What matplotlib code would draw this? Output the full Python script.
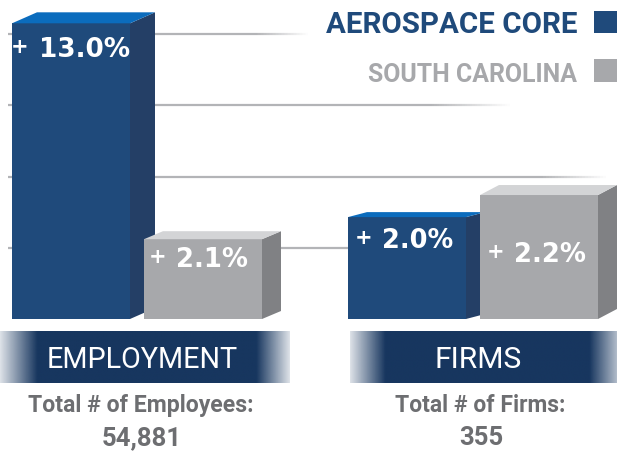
"""
Aerospace core vs. South Carolina growth — pseudo-3D bar chart.
Output: out.png (617 x 453 px)
"""

import numpy as np
import matplotlib
matplotlib.use("Agg")
import matplotlib.pyplot as plt
from matplotlib.patches import Polygon, Rectangle
from matplotlib.collections import LineCollection
from matplotlib.colors import to_rgb

# ── Data ─────────────────────────────────────────────────────────────────────
groups = ["EMPLOYMENT", "FIRMS"]
series = ["AEROSPACE CORE", "SOUTH CAROLINA"]
growth_labels = [["13.0%", "2.1%"], ["2.0%", "2.2%"]]
# drawn bar heights (in gridline units)
bar_heights = [[4.15, 1.12], [1.43, 1.74]]
grid_levels = [1, 2, 3, 4]
total_labels = ["Total # of Employees:", "Total # of Firms:"]
total_values = ["54,881", "355"]

# ── Styles ───────────────────────────────────────────────────────────────────
W, H = 617, 453
NARROW = ["Roboto", "DejaVu Sans"]
FRONT = ["#1f4a7b", "#a7a8ab"]
SIDE = ["#243f66", "#808184"]
TOP = ["#0b6cbd", "#d3d4d6"]
DEPTH = [[(25, 11), (19, 8)], [(19, 5), (19, 10)]]   # px (dx, dy) 3D offset
NAVY = "#17365f"
TEXT_GRAY = "#6d6e71"
GRID = "#b3b4b7"

PX_X, PX_Y = 336.0, 71.25            # px per group unit / per grid unit
BASE_X, BASE_Y = 137.0, 319.0        # px position of group 0 / baseline
PITCH, WIDTH = 132 / PX_X, 118 / PX_X

fig = plt.figure(figsize=(W / 100, H / 100), dpi=100)
fig.patch.set_facecolor("white")
renderer = fig.canvas.get_renderer()

# bar axes: x in group units, y in gridline units
ax = fig.add_axes([0, 0, 1, 1])
ax.set_xlim(-BASE_X / PX_X, (W - BASE_X) / PX_X)
ax.set_ylim(-(H - BASE_Y) / PX_Y, BASE_Y / PX_Y)
ax.axis("off")

# overlay axes in pixel coords for bands / legend / text
ov = fig.add_axes([0, 0, 1, 1], zorder=5)
ov.set_xlim(0, W)
ov.set_ylim(H, 0)
ov.axis("off")
ov.patch.set_alpha(0)


def px2x(px):
    return (px - BASE_X) / PX_X


def fit(t, width_px):
    """Scale a text's font size so its drawn width matches width_px."""
    for _ in range(3):
        w = t.get_window_extent(renderer).width
        t.set_fontsize(t.get_fontsize() * width_px / w)
    return t


# ── Fading gridlines ─────────────────────────────────────────────────────────
grid_span = {1: (8, 617, 617), 2: (8, 540, 606), 3: (8, 430, 510), 4: (8, 255, 308)}
for lvl in grid_levels:
    x0, fade0, x1 = grid_span[lvl]
    n = 200
    xs = np.linspace(px2x(x0), px2x(x1), n)
    segs = [[(xs[i], lvl), (xs[i + 1], lvl)] for i in range(n - 1)]
    rgb = to_rgb(GRID)
    cols = []
    for i in range(n - 1):
        p = x0 + (x1 - x0) * i / (n - 1)
        a = 1.0 if p < fade0 else max(0.0, 1 - (p - fade0) / max(1, x1 - fade0))
        cols.append((*rgb, a))
    ax.add_collection(LineCollection(segs, colors=cols, linewidths=1.6, zorder=1))

# ── Bars ─────────────────────────────────────────────────────────────────────
label_drop = [[34, 28], [31, 67]]    # px from bar top to number baseline
label_width = [[91, 72], [71, 72]]   # px drawn width of the number
plus_dx = [[8, 14], [16, 16]]        # px from bar left to plus centre
num_dx = [[27, 32], [34, 34]]        # px from bar left to number start
for g in range(len(groups)):
    for j in range(len(series)):
        h = bar_heights[g][j]
        x0 = g + (j - 0.5) * PITCH - WIDTH / 2
        x1 = x0 + WIDTH
        dx, dy = DEPTH[g][j][0] / PX_X, DEPTH[g][j][1] / PX_Y
        z = 3 + 2 * j
        ax.add_patch(Rectangle((x0, 0), WIDTH, h, facecolor=FRONT[j],
                               edgecolor="none", zorder=z))
        ax.add_patch(Polygon([(x1, 0), (x1 + dx, dy), (x1 + dx, h + dy), (x1, h)],
                             facecolor=SIDE[j], edgecolor="none", zorder=z))
        ax.add_patch(Polygon([(x0, h), (x0 + dx, h + dy), (x1 + dx, h + dy), (x1, h)],
                             facecolor=TOP[j], edgecolor="none", zorder=z))
        drop = label_drop[g][j]
        t = ax.annotate(growth_labels[g][j], xy=(x0, h), xytext=(num_dx[g][j], -drop),
                        textcoords="offset pixels", ha="left", va="baseline",
                        color="white", fontsize=18, fontweight="bold", zorder=z + 1)
        fit(t, label_width[g][j])
        ax.annotate("+", xy=(x0, h), xytext=(plus_dx[g][j], -drop + 10),
                    textcoords="offset pixels", ha="center", va="center",
                    color="white", fontsize=15, fontweight="bold", zorder=z + 1)

# ── Legend ───────────────────────────────────────────────────────────────────
t = ov.text(577, 33, series[0], ha="right", va="baseline", color=FRONT[0],
            fontsize=24, fontweight="bold", family=NARROW)
fit(t, 251)
t = ov.text(577, 82, series[1], ha="right", va="baseline", color=FRONT[1],
            fontsize=21, fontweight="bold", family=NARROW)
fit(t, 209)
ov.add_patch(Rectangle((594, 11), 24, 22, facecolor=FRONT[0], edgecolor="none"))
ov.add_patch(Rectangle((594, 59), 24, 23, facecolor=FRONT[1], edgecolor="none"))

# ── Category bands with faded ends ───────────────────────────────────────────
band_spans = [(0, 37, 257, 290), (350, 385, 590, 625)]
name_width = [191, 87]
navy = np.array(to_rgb(NAVY))
for (b0, s0, s1, b1), name, cx, nw in zip(band_spans, groups, [142, 478], name_width):
    xs = np.linspace(b0, b1, 300)
    alpha = np.clip(np.minimum((xs - b0) / (s0 - b0), (b1 - xs) / (b1 - s1)), 0, 1)
    alpha = 0.15 + 0.85 * alpha
    img = np.zeros((1, len(xs), 4))
    img[0, :, :3] = navy
    img[0, :, 3] = alpha
    ov.imshow(img, extent=(b0, b1, 383, 331), aspect="auto", interpolation="bilinear",
              zorder=1)
    t = ov.text(cx, 368, name, ha="center", va="baseline", color="white",
                fontsize=23, family=NARROW, zorder=2)
    fit(t, nw)

total_width = [225, 170]
value_width = [80, 44]
for cx, lab, val, lw, vw in zip([141, 480], total_labels, total_values,
                                total_width, value_width):
    t = ov.text(cx, 412, lab, ha="center", va="baseline", color=TEXT_GRAY,
                fontsize=19, fontweight="bold", family=NARROW)
    fit(t, lw)
    t = ov.text(cx + 1, 445, val, ha="center", va="baseline", color=TEXT_GRAY,
                fontsize=19, fontweight="bold", family=NARROW)
    fit(t, vw)

ov.set_xlim(0, W)
ov.set_ylim(H, 0)

fig.savefig("out.png", dpi=100, facecolor="white")
